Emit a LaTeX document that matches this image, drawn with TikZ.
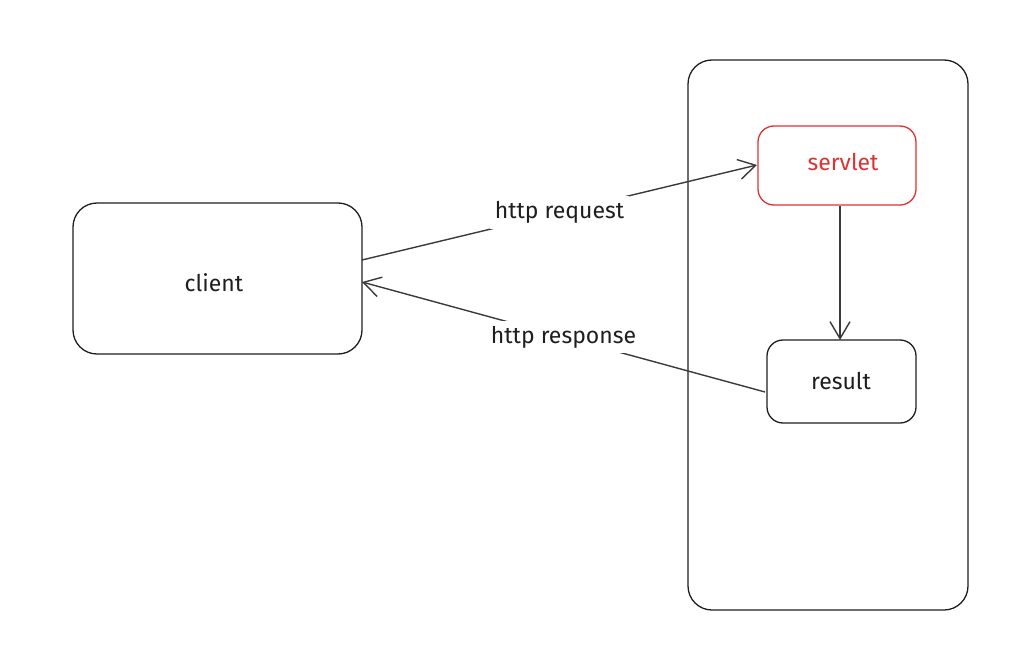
\documentclass[tikz,border=0pt]{standalone}
\usepackage{fontspec}
\setmainfont{Fira Sans}
\usetikzlibrary{arrows.meta}
\definecolor{ink}{HTML}{1E1E1E}
\definecolor{wire}{HTML}{3A3A3A}
\definecolor{hot}{HTML}{E03131}
\begin{document}
\begin{tikzpicture}[x=1pt,y=-1pt,
  box/.style={draw=ink, line width=1.3pt, rounded corners=#1},
  box/.default=24pt,
  lbl/.style={font=\fontsize{23}{27}\selectfont, text=ink},
  link/.style={draw=wire, line width=1.4pt,
    -{Straight Barb[length=17pt,width=20pt,line width=1.4pt]}},
  tag/.style={lbl, fill=white, inner sep=5pt}]
\useasboundingbox (0,0) rectangle (1016,655);
% server container
\draw[box] (688,60) rectangle (968,610);
% client
\draw[box] (73,203) rectangle (362,354);
\node[lbl] (client) at (214,283) {client};
\coordinate (cout) at (362,260);
\coordinate (cin) at (362,282);
% servlet
\draw[box=16pt, draw=hot] (758,126) rectangle (916,205);
\node[lbl, text=hot] (servlet) at (843,162) {servlet};
\coordinate (sin) at (757,165);
\coordinate (sout) at (840,206);
% result
\draw[box=16pt] (767,340) rectangle (916,423);
\node[lbl] (result) at (841,381) {result};
\coordinate (rin) at (840,340);
\coordinate (rout) at (765,392);
% connectors
\draw[link] (cout) -- node[tag, pos=0.5] (req) {http request} (sin);
\draw[link] (sout) -- (rin);
\draw[link] (rout) -- node[tag, pos=0.5] (resp) {http response} (cin);
\end{tikzpicture}
\end{document}
